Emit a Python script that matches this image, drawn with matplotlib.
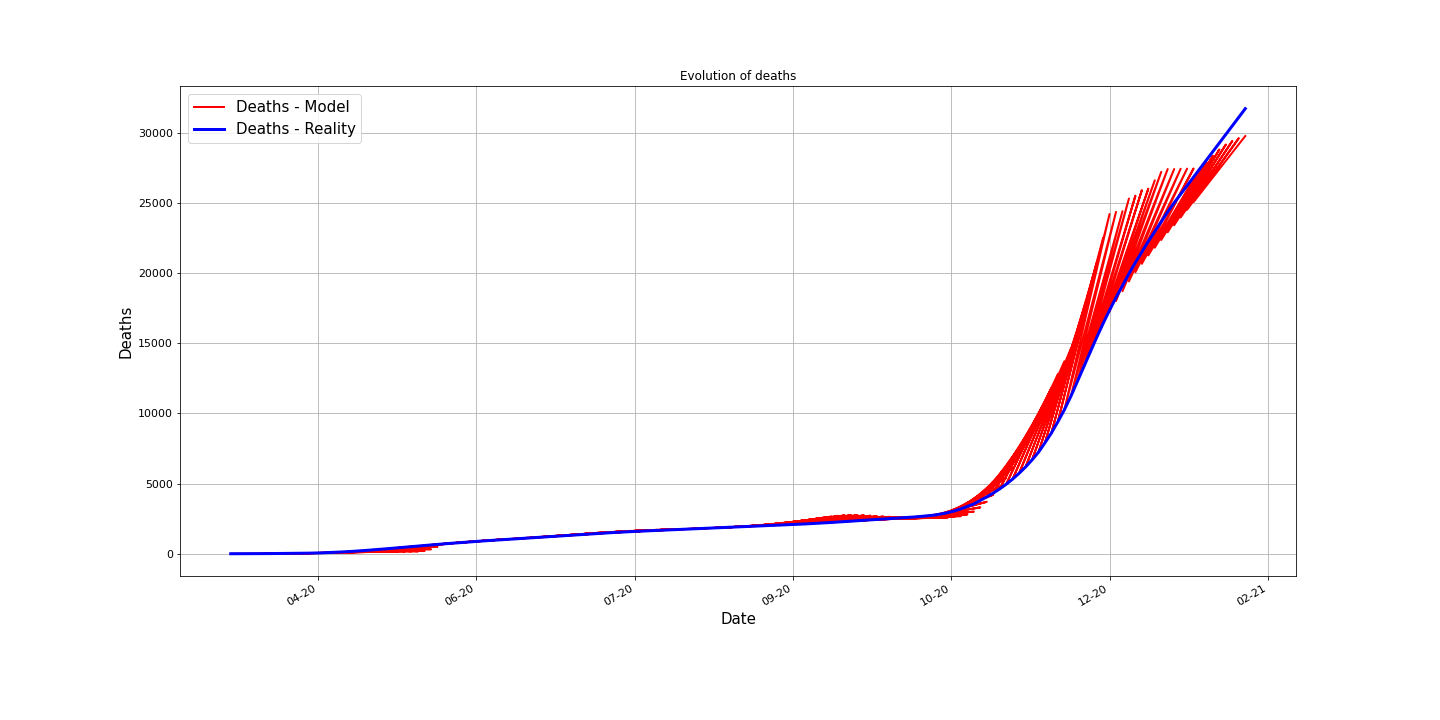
import matplotlib
matplotlib.use("Agg")
import matplotlib.dates as mdates
import matplotlib.pyplot as plt
import pandas as pd

# Dates tous les 2 jours (du 19/03/2020 au 27/01/2021)
dates = pd.date_range("2020-03-19", "2021-01-27", freq="2D")

deaths_reality = [
    0, 1, 2, 4, 6, 9, 12, 16, 20, 25,
    30, 36, 42, 50, 62, 80, 100, 122, 146, 175,
    205, 240, 275, 312, 350, 390, 430, 470, 510, 550,
    590, 630, 670, 705, 740, 775, 810, 845, 880, 910,
    940, 970, 1000, 1030, 1055, 1085, 1115, 1145, 1175, 1205,
    1235, 1265, 1295, 1325, 1355, 1385, 1420, 1450, 1480, 1505,
    1530, 1555, 1580, 1600, 1620, 1640, 1660, 1680, 1700, 1720,
    1740, 1760, 1780, 1800, 1820, 1840, 1860, 1880, 1900, 1920,
    1940, 1960, 1980, 2000, 2020, 2040, 2060, 2080, 2100, 2125,
    2150, 2175, 2200, 2230, 2260, 2290, 2320, 2350, 2380, 2410,
    2440, 2470, 2500, 2530, 2560, 2590, 2625, 2665, 2710, 2760,
    2840, 2930, 3050, 3200, 3370, 3550, 3800, 4050, 4320, 4620,
    4950, 5320, 5730, 6180, 6680, 7230, 7900, 8600, 9400, 10250,
    11200, 12250, 13300, 14350, 15400, 16400, 17350, 18250, 19100, 19950,
    20750, 21500, 22250, 22950, 23650, 24350, 25000, 25610, 26220, 26830,
    27440, 28050, 28660, 29270, 29880, 30490, 31100, 31700,
]

# Horizon de prévision du modèle (en pas de 2 jours)
horizon = 8

# Valeur du modèle au début de chaque prévision
model_start = [
    0, 1, 2, 4, 6, 9, 12, 16, 20, 25,
    30, 36, 42, 50, 62, 80, 100, 122, 146, 175,
    205, 240, 275, 312, 350, 390, 430, 470, 510, 550,
    590, 630, 670, 705, 740, 775, 810, 845, 880, 910,
    940, 970, 1000, 1030, 1055, 1085, 1115, 1145, 1175, 1205,
    1235, 1265, 1295, 1325, 1355, 1385, 1420, 1450, 1480, 1505,
    1530, 1555, 1580, 1600, 1620, 1640, 1660, 1680, 1700, 1720,
    1740, 1760, 1780, 1800, 1820, 1840, 1860, 1880, 1900, 1920,
    1940, 1960, 1980, 2000, 2020, 2040, 2060, 2080, 2100, 2125,
    2150, 2175, 2200, 2230, 2260, 2290, 2320, 2350, 2380, 2410,
    2440, 2470, 2500, 2530, 2560, 2590, 2625, 2665, 2710, 2760,
    2840, 2930, 3050, 3200, 3370, 3550, 3800, 4050, 4320, 4620,
    4950, 5320, 5730, 6180, 6680, 7230, 7900, 8600, 9400, 10250,
    11200, 12250, 13300, 14350, 15400, 16400, 17250, 18000, 18700, 19400,
    20050, 20650, 21250, 21800, 22350, 22900, 23400, 23950, 24500, 25050,
]

# Valeur du modèle à la fin de chaque prévision
model_end = [
    20, 24, 28, 32, 36, 42, 50, 60, 70, 80,
    90, 100, 110, 120, 130, 140, 150, 160, 170, 175,
    175, 170, 200, 320, 500, 680, 745, 785, 825, 860,
    895, 930, 960, 990, 1020, 1050, 1075, 1105, 1135, 1165,
    1195, 1230, 1260, 1295, 1325, 1360, 1390, 1425, 1460, 1495,
    1525, 1555, 1580, 1605, 1630, 1650, 1670, 1690, 1705, 1720,
    1735, 1750, 1765, 1780, 1795, 1810, 1830, 1850, 1870, 1890,
    1910, 1930, 1950, 1975, 2000, 2030, 2070, 2120, 2180, 2240,
    2310, 2380, 2450, 2520, 2590, 2650, 2700, 2740, 2760, 2760,
    2740, 2710, 2680, 2650, 2630, 2610, 2600, 2590, 2580, 2570,
    2560, 2560, 2570, 2590, 2620, 2680, 2800, 3000, 3300, 3700,
    4200, 4800, 5400, 6100, 6900, 7800, 8800, 9800, 10800, 11800,
    12800, 13700, 14600, 15700, 17100, 18900, 20700, 22500, 24200, 24350,
    24400, 25300, 25500, 25900, 26000, 26600, 27200, 27400, 27400, 27420,
    27430, 27440, 27450, 27900, 28350, 28800, 29150, 29400, 29600, 29750,
]

# Concaténer toutes les prévisions en une seule ligne
model_x = []
model_y = []
for k in range(len(model_start)):
    model_x += [dates[k], dates[k + horizon]]
    model_y += [model_start[k], model_end[k]]

fig, ax = plt.subplots(figsize=(20, 10), dpi=72)

ax.plot(model_x, model_y, color="red", linewidth=2, label="Deaths - Model")
ax.plot(dates, deaths_reality, color="blue", linewidth=3, label="Deaths - Reality")

# Ticks tous les 49 jours, format mois-année
ax.set_xticks(pd.date_range("2020-04-15", periods=7, freq="49D"))
ax.xaxis.set_major_formatter(mdates.DateFormatter("%m-%y"))
ax.tick_params(labelsize=11)

ax.set_title("Evolution of deaths", fontsize=12)
ax.set_xlabel("Date", fontsize=15)
ax.set_ylabel("Deaths", fontsize=15)
ax.grid(True)
ax.legend(loc="upper left", fontsize=15)
fig.autofmt_xdate()

plt.savefig("out.png", dpi=72)
